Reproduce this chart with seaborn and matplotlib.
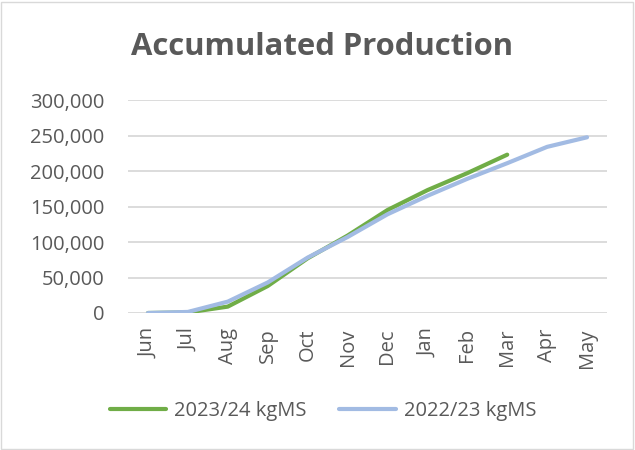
import numpy as np
import pandas as pd
import matplotlib
matplotlib.use("Agg")
import matplotlib.pyplot as plt
import seaborn as sns
from matplotlib.patches import Rectangle

months = ['Jun', 'Jul', 'Aug', 'Sep', 'Oct', 'Nov', 'Dec', 'Jan', 'Feb', 'Mar', 'Apr', 'May']
prod_2324 = [0, 800, 9000, 38000, 77000, 109000, 145000, 173000, 197000, 223000]
prod_2223 = [0, 1500, 16000, 43000, 78000, 107000, 139000, 165000, 189000, 211000, 234000, 247500]
y_ticks = [0, 50000, 100000, 150000, 200000, 250000, 300000]

df_new = pd.DataFrame({'month': months[:len(prod_2324)], 'value': prod_2324})
df_old = pd.DataFrame({'month': months, 'value': prod_2223})

sns.set_theme(style="white")
plt.rcParams['font.family'] = ['Open Sans', 'DejaVu Sans']

fig = plt.figure(figsize=(6.35, 4.5), dpi=100)
ax = fig.add_axes([128 / 635, 1 - 313 / 450, (607 - 128) / 635, (313 - 100) / 450])

green = '#70ad47'
blue = '#a2bbe3'
text_col = '#595959'

sns.lineplot(data=df_old, x='month', y='value', ax=ax, color=blue, linewidth=3.0,
             label='2022/23 kgMS', sort=False, zorder=3, solid_capstyle='round')
sns.lineplot(data=df_new, x='month', y='value', ax=ax, color=green, linewidth=3.0,
             label='2023/24 kgMS', sort=False, zorder=2, solid_capstyle='round')

ax.set_xlim(-0.5, len(months) - 0.5)
ax.set_ylim(0, 300000)
ax.set_yticks(y_ticks)
ax.set_yticklabels(['0' if v == 0 else f'{v:,}' for v in y_ticks], fontsize=14.5, color=text_col)
ax.set_xticks(range(len(months)))
ax.set_xticklabels(months, rotation=90, fontsize=14.5, color=text_col)
ax.tick_params(axis='y', length=0, pad=17)
ax.tick_params(axis='x', length=0, pad=11)
ax.grid(axis='y', color='#d9d9d9', linewidth=1.3, zorder=0)
ax.set_axisbelow(True)
for s in ax.spines.values():
    s.set_visible(False)
ax.set_xlabel('')
ax.set_ylabel('')

handles, labels = ax.get_legend_handles_labels()
ax.legend(handles[::-1], labels[::-1], loc='center', bbox_to_anchor=(323 / 635, 1 - 411 / 450),
          bbox_transform=fig.transFigure, ncol=2, frameon=False, fontsize=14.5,
          handlelength=2.8, handletextpad=0.4, columnspacing=1.6, labelcolor=text_col)

fig.text(322 / 635, 1 - 47 / 450, 'Accumulated Production', ha='center', va='center',
         fontsize=22.3, fontweight='bold', color=text_col)

fig.patches.append(Rectangle((0.002, 0.003), 0.995, 0.993, transform=fig.transFigure,
                             fill=False, edgecolor='#d9d9d9', linewidth=1))

fig.savefig('out.png', dpi=100, facecolor='white')
